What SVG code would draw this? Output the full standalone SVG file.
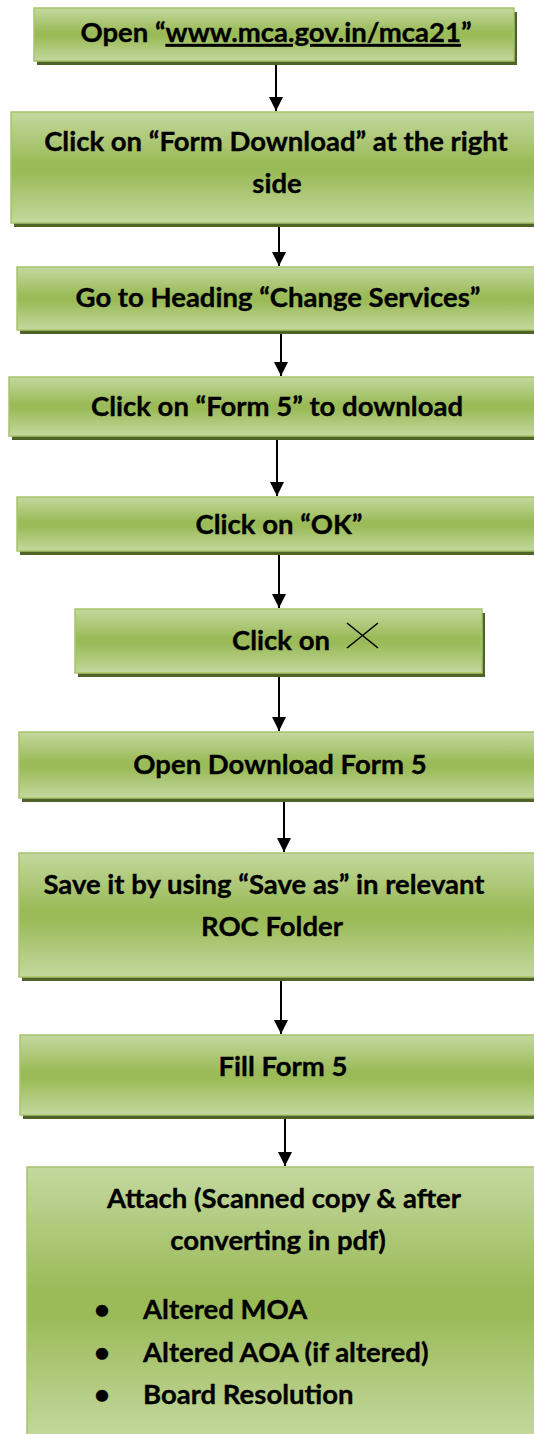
<svg xmlns="http://www.w3.org/2000/svg" width="534" height="1434" viewBox="0 0 534 1434">
<style>
.box{fill:url(#g);stroke:#a7c46a;stroke-width:1.5}
.sh{fill:#4f6228}
.t{font-family:Lato,"Open Sans","Liberation Sans",sans-serif;font-weight:bold;font-size:27.5px;fill:#000;stroke:#000;stroke-width:0.35;text-anchor:middle}
.ts{text-anchor:start}
.c{stroke:#000;stroke-width:2;fill:none}
</style>
<defs>
<linearGradient id="g" x1="0" y1="0" x2="0" y2="1">
<stop offset="0" stop-color="#c4d89f"/>
<stop offset="0.45" stop-color="#9bbb59"/>
<stop offset="0.55" stop-color="#9bbb59"/>
<stop offset="1" stop-color="#c4d89f"/>
</linearGradient>
<marker id="ah" markerWidth="14" markerHeight="14" refX="14" refY="7" orient="auto" markerUnits="userSpaceOnUse">
<path d="M0,0 L14,7 L0,14 Z" fill="#000"/>
</marker>
</defs>
<rect width="534" height="1434" fill="#fff"/>

<g id="connectors">
<line class="c" x1="276" y1="65" x2="276" y2="111" marker-end="url(#ah)"/>
<line class="c" x1="279" y1="226" x2="279" y2="266" marker-end="url(#ah)"/>
<line class="c" x1="281" y1="333" x2="281" y2="376" marker-end="url(#ah)"/>
<line class="c" x1="277" y1="439" x2="277" y2="496" marker-end="url(#ah)"/>
<line class="c" x1="279" y1="554" x2="279" y2="608" marker-end="url(#ah)"/>
<line class="c" x1="279" y1="676" x2="279" y2="731" marker-end="url(#ah)"/>
<line class="c" x1="284" y1="801" x2="284" y2="852" marker-end="url(#ah)"/>
<line class="c" x1="281" y1="980" x2="281" y2="1034" marker-end="url(#ah)"/>
<line class="c" x1="285" y1="1118" x2="285" y2="1166" marker-end="url(#ah)"/>
</g>

<g id="n1">
<rect class="sh" x="37" y="12" width="480" height="53"/>
<rect class="box" x="34" y="8" width="480" height="53"/>
<text class="t" x="276" y="42">Open “<tspan text-decoration="underline">www.mca.gov.in/mca21</tspan>”</text>
</g>

<g id="n2">
<rect class="sh" x="14" y="116" width="530" height="111"/>
<rect class="box" x="11" y="112" width="530" height="111"/>
<text class="t" x="276" y="151">Click on “Form Download” at the right</text>
<text class="t" x="277" y="193">side</text>
</g>

<g id="n3">
<rect class="sh" x="20" y="271" width="530" height="63"/>
<rect class="box" x="17" y="267" width="530" height="63"/>
<text class="t" x="278" y="307">Go to Heading “Change Services”</text>
</g>

<g id="n4">
<rect class="sh" x="12" y="381" width="530" height="59"/>
<rect class="box" x="9" y="377" width="530" height="59"/>
<text class="t" x="277" y="416">Click on “Form 5” to download</text>
</g>

<g id="n5">
<rect class="sh" x="20" y="501" width="530" height="54"/>
<rect class="box" x="17" y="497" width="530" height="54"/>
<text class="t" x="279" y="534">Click on “OK”</text>
</g>

<g id="n6">
<rect class="sh" x="78" y="613" width="407" height="64"/>
<rect class="box" x="75" y="609" width="407" height="64"/>
<text class="t ts" x="232" y="650">Click on</text>
<path d="M347,623 L378,648 M378,623 L347,648" stroke="#000" stroke-width="1.6" fill="none"/>
</g>

<g id="n7">
<rect class="sh" x="22" y="736" width="530" height="66"/>
<rect class="box" x="19" y="732" width="530" height="66"/>
<text class="t" x="280" y="774">Open Download Form 5</text>
</g>

<g id="n8">
<rect class="sh" x="22" y="857" width="530" height="124"/>
<rect class="box" x="19" y="853" width="530" height="124"/>
<text class="t" x="264" y="894">Save it by using “Save as” in relevant</text>
<text class="t" x="272" y="936">ROC Folder</text>
</g>

<g id="n9">
<rect class="sh" x="23" y="1039" width="530" height="80"/>
<rect class="box" x="20" y="1035" width="530" height="80"/>
<text class="t" x="283" y="1076">Fill Form 5</text>
</g>

<g id="n10">
<rect class="box" x="27" y="1167" width="530" height="272"/>
<text class="t" x="284" y="1208">Attach (Scanned copy &amp; after</text>
<text class="t" x="278" y="1250">converting in pdf)</text>
<text class="t ts" x="94" y="1319">•</text>
<text class="t ts" x="143" y="1319">Altered MOA</text>
<text class="t ts" x="94" y="1362">•</text>
<text class="t ts" x="143" y="1362">Altered AOA (if altered)</text>
<text class="t ts" x="94" y="1404">•</text>
<text class="t ts" x="143" y="1404">Board Resolution</text>
</g>
</svg>
